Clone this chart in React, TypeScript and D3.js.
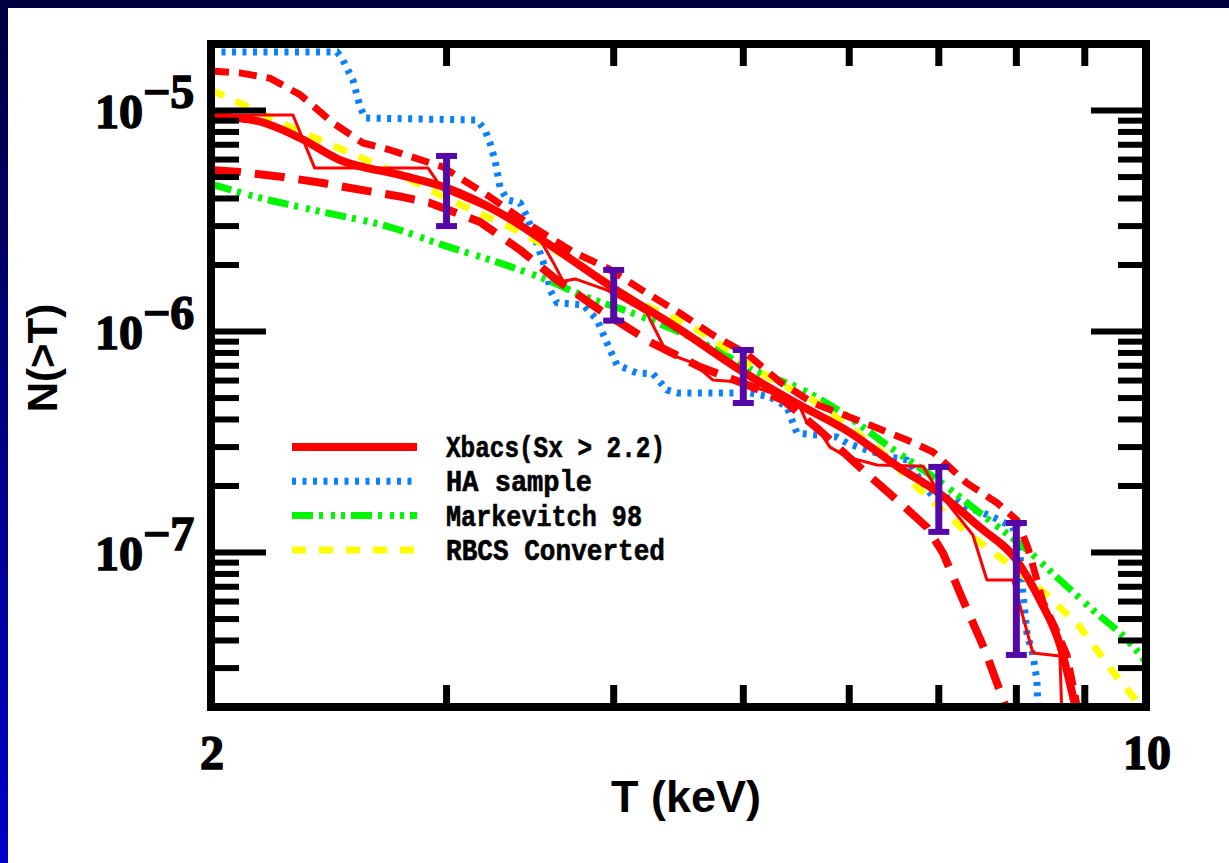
import React from "react";
import * as d3 from "d3";

// ---------------- data ----------------
const xDomain = [2, 10];
const yDomain = [2e-8, 2e-5];

// Xbacs fit (thick solid red)
const xbacsFitT = [2, 2.165, 2.331, 2.497, 2.769, 3.003, 3.289, 3.585, 4.0, 4.484, 5.0, 5.51, 6.0, 6.548, 7.0, 7.513, 8.0, 8.33, 8.623, 8.849];
const xbacsFitN = [9.45e-6, 8.97e-6, 7.51e-6, 5.97e-6, 5.11e-6, 4.46e-6, 3.44e-6, 2.46e-6, 1.57e-6, 1.02e-6, 6.56e-7, 4.65e-7, 3.51e-7, 2.41e-7, 1.86e-7, 1.3e-7, 9.25e-8, 6.1e-8, 3.82e-8, 2.04e-8];

// Xbacs cumulative data (thin solid red)
const xbacsDataT = [2, 2.303, 2.391, 2.906, 2.982, 3.289, 3.524, 3.604, 3.666, 3.743, 3.955, 4.236, 4.384, 4.461, 4.585, 4.746, 4.972, 5.326, 5.512, 5.579, 5.676, 5.804, 5.977, 6.294, 6.813, 6.979, 7.423, 7.604, 7.952, 8.231, 8.623, 8.653];
const xbacsDataN = [9.54e-6, 9.54e-6, 5.49e-6, 5.49e-6, 4.37e-6, 3.4e-6, 2.6e-6, 2.06e-6, 1.69e-6, 1.73e-6, 1.54e-6, 1.21e-6, 7.99e-7, 7.67e-7, 7.21e-7, 6.03e-7, 5.91e-7, 5.11e-7, 4.56e-7, 3.86e-7, 3.7e-7, 3.0e-7, 2.71e-7, 2.49e-7, 2.46e-7, 1.92e-7, 1.2e-7, 7.51e-8, 7.51e-8, 3.51e-8, 3.4e-8, 1.8e-8];

// Xbacs upper bound (short dashed red)
const xbacsUpperT = [2, 2.102, 2.214, 2.331, 2.468, 2.598, 2.722, 2.982, 3.233, 3.482, 3.73, 3.955, 4.236, 4.484, 4.746, 5.032, 5.326, 5.637, 6.08, 6.628, 6.931, 7.347, 7.736, 8.008, 8.161, 8.375, 8.549, 8.728, 8.88];
const xbacsUpperN = [1.51e-5, 1.48e-5, 1.4e-5, 1.18e-5, 8.78e-6, 7.13e-6, 6.63e-6, 5.55e-6, 4.06e-6, 2.97e-6, 2.29e-6, 1.94e-6, 1.49e-6, 1.21e-6, 9.64e-7, 7.91e-7, 5.91e-7, 4.75e-7, 3.98e-7, 3.23e-7, 2.85e-7, 2.06e-7, 1.68e-7, 1.4e-7, 1.05e-7, 5.97e-8, 4.6e-8, 3.44e-8, 2.04e-8];

// Xbacs lower bound (long dashed red)
const xbacsLowerT = [2, 2.102, 2.264, 2.425, 2.541, 2.783, 2.916, 3.178, 3.405, 3.628, 3.907, 4.258, 4.641, 5.058, 5.354, 5.699, 6.143, 6.548, 6.86, 7.051, 7.297, 7.578, 7.88];
const xbacsLowerN = [5.38e-6, 5.27e-6, 5.0e-6, 4.7e-6, 4.46e-6, 4.06e-6, 3.82e-6, 3.13e-6, 2.34e-6, 1.71e-6, 1.25e-6, 8.97e-7, 6.91e-7, 5.67e-7, 4.9e-7, 3.58e-7, 2.36e-7, 1.68e-7, 1.3e-7, 9.95e-8, 6.1e-8, 3.62e-8, 1.9e-8];

// HA sample (blue dotted)
const haT = [2, 2.485, 2.51, 2.554, 2.585, 2.607, 3.161, 3.205, 3.233, 3.261, 3.289, 3.33, 3.405, 3.446, 3.482, 3.524, 3.566, 3.585, 3.628, 3.795, 3.887, 3.966, 4.023, 4.164, 4.28, 4.384, 4.461, 4.801, 5.058, 5.235, 5.39, 5.484, 5.875, 5.977, 6.186, 6.436, 6.628, 6.86, 6.979, 7.172, 7.347, 7.683, 7.952, 8.049, 8.091, 8.147, 8.231, 8.288, 8.303];
const haN = [1.84e-5, 1.84e-5, 1.69e-5, 1.37e-5, 1.04e-5, 9.25e-6, 9.06e-6, 8.16e-6, 7.13e-6, 5.97e-6, 4.51e-6, 3.94e-6, 3.82e-6, 3.3e-6, 2.79e-6, 2.27e-6, 1.84e-6, 1.54e-6, 1.35e-6, 1.32e-6, 1.13e-6, 8.51e-7, 7.06e-7, 6.49e-7, 6.43e-7, 5.44e-7, 5.27e-7, 5.27e-7, 5.27e-7, 5.06e-7, 4.56e-7, 3.47e-7, 3.33e-7, 3.13e-7, 2.91e-7, 2.71e-7, 2.62e-7, 1.92e-7, 1.73e-7, 1.78e-7, 1.61e-7, 1.45e-7, 1.3e-7, 9.95e-8, 6.56e-8, 4.32e-8, 3.44e-8, 2.65e-8, 1.9e-8];

// Markevitch 98 (green dash-dot-dot-dot)
const markT = [2, 2.165, 2.425, 2.722, 2.982, 3.289, 3.524, 3.821, 4.135, 4.665, 5.084, 5.541, 6.038, 6.326, 7.099, 7.513, 8.147, 8.623, 9.127, 9.729, 10];
const markN = [4.65e-6, 4.06e-6, 3.47e-6, 2.97e-6, 2.46e-6, 2.04e-6, 1.76e-6, 1.43e-6, 1.21e-6, 8.87e-7, 6.7e-7, 5.44e-7, 3.98e-7, 3.23e-7, 1.98e-7, 1.51e-7, 1.03e-7, 7.51e-8, 5.49e-8, 3.9e-8, 3.2e-8];

// RBCS converted (yellow dashed)
const rbcsT = [2, 2.102, 2.291, 2.51, 2.754, 3.018, 3.346, 3.73, 4.135, 4.585, 4.912, 5.262, 5.637, 6.038, 6.326, 6.778, 7.347, 7.952, 8.433, 8.926, 9.448, 9.897];
const rbcsN = [1.24e-5, 1.08e-5, 8.42e-6, 6.63e-6, 5.22e-6, 3.94e-6, 2.97e-6, 2.11e-6, 1.39e-6, 1.05e-6, 7.99e-7, 6.03e-7, 4.9e-7, 3.58e-7, 2.91e-7, 1.92e-7, 1.23e-7, 8.6e-8, 6.42e-8, 4.6e-8, 2.88e-8, 2.04e-8];

// error bars
const errT = [3, 4, 5, 7, 8];
const errLow = [3.0e-6, 1.12e-6, 4.75e-7, 1.24e-7, 3.44e-8];
const errHigh = [6.23e-6, 1.9e-6, 8.25e-7, 2.44e-7, 1.36e-7];

// ticks and labels
const xMinorTicks = [3, 4, 5, 6, 7, 8, 9];
const xLabelValues = [2, 10];
const xLabelTexts = ["2", "10"];
const yMajorTicks = [1e-7, 1e-6, 1e-5];
const yMajorExponents = ["\u22127", "\u22126", "\u22125"];
const yMinorTicks = [
  3e-8, 4e-8, 5e-8, 6e-8, 7e-8, 8e-8, 9e-8,
  2e-7, 3e-7, 4e-7, 5e-7, 6e-7, 7e-7, 8e-7, 9e-7,
  2e-6, 3e-6, 4e-6, 5e-6, 6e-6, 7e-6, 8e-6, 9e-6,
];
const legendLabels = ["Xbacs(Sx > 2.2)", "HA sample", "Markevitch 98", "RBCS Converted"];

// ---------------- layout / style ----------------
const W = 1229;
const H = 863;
const PL = 211, PR = 1146, PT = 44, PB = 707;
const RED = "#ff0000";
const BLUE = "#0a80ff";
const GREEN = "#00f500";
const YELLOW = "#ffff00";
const PURPLE = "#5507a8";
const legendTextWidths = [219, 146, 196, 219];

export default function App() {
  const xs = d3.scaleLog().domain(xDomain).range([PL, PR]);
  const ys = d3.scaleLog().domain(yDomain).range([PB, PT]);

  const lineLin = d3
    .line<[number, number]>()
    .x((d) => xs(d[0]))
    .y((d) => ys(d[1]));
  const lineSmooth = d3
    .line<[number, number]>()
    .x((d) => xs(d[0]))
    .y((d) => ys(d[1]))
    .curve(d3.curveMonotoneX);

  const pts = (a: number[], b: number[]) => d3.zip(a, b) as [number, number][];

  const series = [
    { d: lineLin(pts(haT, haN)), stroke: BLUE, w: 7, dash: "4 6.5" },
    { d: lineSmooth(pts(markT, markN)), stroke: GREEN, w: 7, dash: "21 6 4 8 4 6 4 6" },
    { d: lineLin(pts(rbcsT, rbcsN)), stroke: YELLOW, w: 7, dash: "14 13" },
    { d: lineLin(pts(xbacsUpperT, xbacsUpperN)), stroke: RED, w: 7, dash: "18 10" },
    { d: lineLin(pts(xbacsLowerT, xbacsLowerN)), stroke: RED, w: 8, dash: "30 14" },
    { d: lineLin(pts(xbacsDataT, xbacsDataN)), stroke: RED, w: 3, dash: undefined },
    { d: lineSmooth(pts(xbacsFitT, xbacsFitN)), stroke: RED, w: 8, dash: undefined },
  ];

  const legendStyles = [
    { stroke: RED, w: 8, dash: undefined },
    { stroke: BLUE, w: 7, dash: "4 6.5" },
    { stroke: GREEN, w: 7, dash: "21 6 4 8 4 6 4 6" },
    { stroke: YELLOW, w: 7, dash: "14 13" },
  ];
  const legendY0 = 447;
  const legendDy = 34.3;

  const labelFont = "'Liberation Serif', 'DejaVu Serif', serif";

  return (
    <div style={{ position: "absolute", left: 0, top: 0 }}>
      <svg width={W} height={H} style={{ display: "block" }}>
        <defs>
          <linearGradient id="leftband" x1="0" y1="0" x2="0" y2="1">
            <stop offset="0" stopColor="#000040" />
            <stop offset="1" stopColor="#0000c8" />
          </linearGradient>
          <clipPath id="plotclip">
            <rect x={PL} y={PT} width={PR - PL} height={PB - PT} />
          </clipPath>
        </defs>
        <rect x={0} y={0} width={W} height={H} fill="#ffffff" />
        <rect x={0} y={0} width={8} height={H} fill="url(#leftband)" />
        <rect x={0} y={0} width={W} height={8} fill="#000040" />

        {/* data lines */}
        <g clipPath="url(#plotclip)" fill="none">
          {series.map((s, i) => (
            <path
              key={i}
              d={s.d || ""}
              stroke={s.stroke}
              strokeWidth={s.w}
              strokeDasharray={s.dash}
              strokeLinecap="butt"
              strokeLinejoin="round"
            />
          ))}
        </g>

        {/* error bars */}
        <g stroke={PURPLE} fill="none">
          {errT.map((t, i) => {
            const x = xs(t);
            const y1 = ys(errHigh[i]);
            const y2 = ys(errLow[i]);
            return (
              <g key={i}>
                <line x1={x} x2={x} y1={y1} y2={y2} strokeWidth={7} />
                <line x1={x - 10.5} x2={x + 10.5} y1={y1} y2={y1} strokeWidth={6} />
                <line x1={x - 10.5} x2={x + 10.5} y1={y2} y2={y2} strokeWidth={6} />
              </g>
            );
          })}
        </g>

        {/* ticks */}
        <g stroke="#000">
          {yMajorTicks.map((v, i) => (
            <g key={"ym" + i}>
              <line x1={PL} x2={PL + 55} y1={ys(v)} y2={ys(v)} strokeWidth={6} />
              <line x1={PR} x2={PR - 55} y1={ys(v)} y2={ys(v)} strokeWidth={6} />
            </g>
          ))}
          {yMinorTicks.map((v, i) => (
            <g key={"yn" + i}>
              <line x1={PL} x2={PL + 28} y1={ys(v)} y2={ys(v)} strokeWidth={6} />
              <line x1={PR} x2={PR - 28} y1={ys(v)} y2={ys(v)} strokeWidth={6} />
            </g>
          ))}
          {xMinorTicks.map((v, i) => (
            <g key={"xn" + i}>
              <line x1={xs(v)} x2={xs(v)} y1={PB} y2={PB - 22} strokeWidth={7} />
              <line x1={xs(v)} x2={xs(v)} y1={PT} y2={PT + 22} strokeWidth={7} />
            </g>
          ))}
        </g>

        {/* frame */}
        <rect x={PL} y={PT} width={PR - PL} height={PB - PT} fill="none" stroke="#000" strokeWidth={8} />

        {/* tick labels */}
        <g fontFamily={labelFont} fontWeight="bold" fontSize={48} fill="#000" stroke="#000" strokeWidth={1.5}>
          {yMajorTicks.map((v, i) => (
            <g key={"yl" + i}>
              <text x={143} y={ys(v) + 17} textAnchor="end">10</text>
              <text x={143} y={ys(v) - 3} textAnchor="start">{yMajorExponents[i]}</text>
            </g>
          ))}
          {xLabelValues.map((v, i) => (
            <text key={"xl" + i} x={xs(v) + 1} y={769} textAnchor="middle">
              {xLabelTexts[i]}
            </text>
          ))}
        </g>

        {/* axis titles */}
        <text
          x={686}
          y={812}
          textAnchor="middle"
          fontFamily="'Liberation Sans', Arial, sans-serif"
          fontWeight="bold"
          fontSize={45}
          fill="#000"
        >
          T (keV)
        </text>
        <text
          transform="translate(57,358) rotate(-90)"
          textAnchor="middle"
          fontFamily="'Liberation Sans', Arial, sans-serif"
          fontWeight="bold"
          fontSize={42}
          fill="#000"
        >
          N(&gt;T)
        </text>

        {/* legend */}
        <g>
          {legendLabels.map((lab, i) => {
            const y = legendY0 + i * legendDy;
            const st = legendStyles[i];
            return (
              <g key={"lg" + i}>
                <line
                  x1={292}
                  x2={417}
                  y1={y}
                  y2={y}
                  stroke={st.stroke}
                  strokeWidth={st.w}
                  strokeDasharray={st.dash}
                />
                <text
                  x={446}
                  y={y + 10}
                  fontFamily="'Liberation Mono', 'DejaVu Sans Mono', monospace"
                  fontWeight="bold"
                  fontSize={29}
                  fill="#000"
                  stroke="#000"
                  strokeWidth={0.6}
                  textLength={legendTextWidths[i]}
                  lengthAdjust="spacingAndGlyphs"
                  style={{ whiteSpace: "pre" }}
                >
                  {lab}
                </text>
              </g>
            );
          })}
        </g>
      </svg>
    </div>
  );
}
